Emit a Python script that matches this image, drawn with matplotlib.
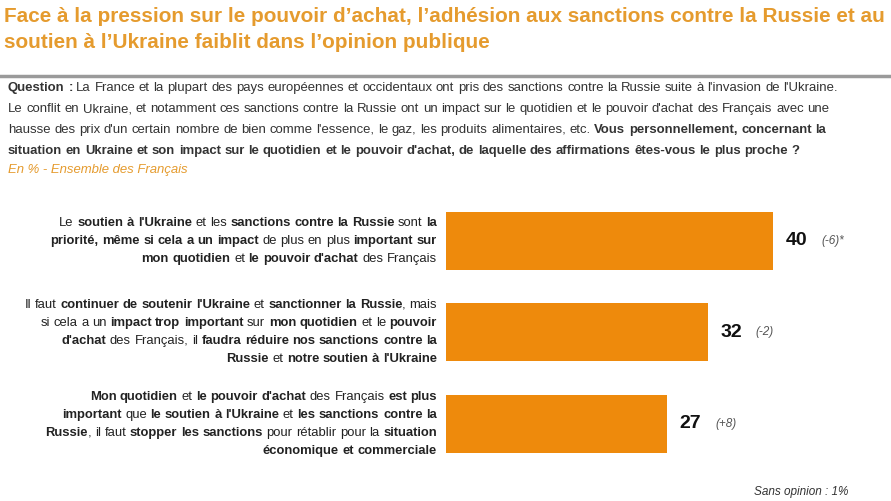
import matplotlib
matplotlib.use("Agg")
import matplotlib.pyplot as plt
import re

FONT = "Liberation Sans"
ORANGE = "#EE8A0C"
TITLE_C = "#E59B2E"

categories = [
    ["Le **soutien à l'Ukraine** et les **sanctions contre la Russie** sont **la**",
     "**priorité, même si cela a un impact** de plus en plus **important sur**",
     "**mon quotidien** et **le pouvoir d'achat** des Français"],
    ["Il faut **continuer de soutenir l'Ukraine** et **sanctionner la Russie**, mais",
     "si cela a un **impact trop important** sur **mon quotidien** et le **pouvoir**",
     "**d'achat** des Français, il **faudra réduire nos sanctions contre la**",
     "**Russie** et **notre soutien à l'Ukraine**"],
    ["**Mon quotidien** et **le pouvoir d'achat** des Français **est plus**",
     "**important** que **le soutien à l'Ukraine** et **les sanctions contre la**",
     "**Russie**, il faut **stopper les sanctions** pour rétablir pour la **situation**",
     "**économique et commerciale**"],
]
values = [40, 32, 27]
changes = ["(-6)*", "(-2)", "(+8)"]
title_lines = ["Face à la pression sur le pouvoir d\u2019achat, l\u2019adhésion aux sanctions contre la Russie et au",
               "soutien à l\u2019Ukraine faiblit dans l\u2019opinion publique"]
question_lines = [
    "**Question :** La France et la plupart des pays européennes et occidentaux ont pris des sanctions contre la Russie suite à l'invasion de l'Ukraine.",
    "Le conflit en Ukraine, et notamment ces sanctions contre la Russie ont un impact sur le quotidien et le pouvoir d'achat des Français avec une",
    "hausse des prix d'un certain nombre de bien comme l'essence, le gaz, les produits alimentaires, etc. **Vous personnellement, concernant la**",
    "**situation en Ukraine et son impact sur le quotidien et le pouvoir d'achat, de laquelle des affirmations êtes-vous le plus proche ?**",
]

W, H = 891, 501
fig = plt.figure(figsize=(W/100, H/100), dpi=100)
fig.patch.set_facecolor("white")
R = fig.canvas.get_renderer()

def fx(x): return x / W
def fy(y): return 1 - y / H

def words(line):
    """list of (word, bold, space_before)"""
    out = []
    pending_space = False
    for i, part in enumerate(re.split(r"\*\*", line)):
        b = i % 2 == 1
        pieces = part.split(" ")
        for k, w in enumerate(pieces):
            if k > 0:
                pending_space = True
            if w:
                out.append((w, b, pending_space and bool(out)))
                pending_space = False
    return out

def width(s, bold, size, style="normal"):
    t = fig.text(0, 0, s, fontsize=size, family=FONT, style=style,
                 fontweight="bold" if bold else "normal")
    w = t.get_window_extent(R).width
    t.remove()
    return w

def line_width(line, size):
    sp = width("a a", False, size) - width("aa", False, size)
    ws = words(line)
    return sum(width(w, b, size) + (sp if s else 0) for w, b, s in ws)

def draw_line(line, x, y, size, color, align="left"):
    sp = width("a a", False, size) - width("aa", False, size)
    ws = words(line)
    wd = [width(w, b, size) for w, b, _ in ws]
    total = sum(wd) + sp * sum(1 for _, _, s in ws if s)
    cx = x - total if align == "right" else x
    for (w, b, s), d in zip(ws, wd):
        if s:
            cx += sp
        fig.text(fx(cx), fy(y), w, fontsize=size, family=FONT, color=color,
                 fontweight="bold" if b else "normal", va="center", ha="left")
        cx += d

def fit(line, target, base=10):
    return base * target / line_width(line, base)

# title
ts = 13 * 484 / width(title_lines[1], True, 13)
for i, tl in enumerate(title_lines):
    fig.text(fx(4), fy(17 + 26 * i), tl, fontsize=ts, family=FONT, color=TITLE_C,
             fontweight="bold", va="center")
fig.add_artist(plt.Line2D([0, 1], [fy(76), fy(76)], color="#9a9a9a", lw=2.5, transform=fig.transFigure))

qs = fit(question_lines[3], 798)
for i, ql in enumerate(question_lines):
    draw_line(ql, 8, 88 + 21 * i, qs, "#333333")
fig.text(fx(8), fy(170), "En % - Ensemble des Français", fontsize=qs, family=FONT,
         color=TITLE_C, style="italic", va="center")

# bars
scale = 8.175
ax = fig.add_axes([446 / W, 1 - 470 / H, (W - 446) / W, 270 / H])
ax.set_xlim(0, (W - 446) / scale)
ax.set_ylim(2.503, -0.448)
ax.barh(range(len(values)), values, height=0.634, color=ORANGE)
ax.axis("off")
for i, (v, c) in enumerate(zip(values, changes)):
    ax.text(v + 1.6, i, str(v), fontsize=14, family=FONT, fontweight="bold", va="center", color="#111111")
    ax.text(v + 5.9, i, c, fontsize=8.5, family=FONT, style="italic", va="center", color="#555555")

ls = fit(categories[1][0], 415)
centers = [241, 332, 424]
for lines, yc in zip(categories, centers):
    n = len(lines)
    for j, l in enumerate(lines):
        draw_line(l, 437, yc + (j - (n - 1) / 2) * 18, ls, "#222222", align="right")

fig.text(fx(849), fy(492), "Sans opinion : 1%", fontsize=8.5, family=FONT, style="italic",
         ha="right", va="center", color="#333333")
fig.savefig("out.png", dpi=100)
